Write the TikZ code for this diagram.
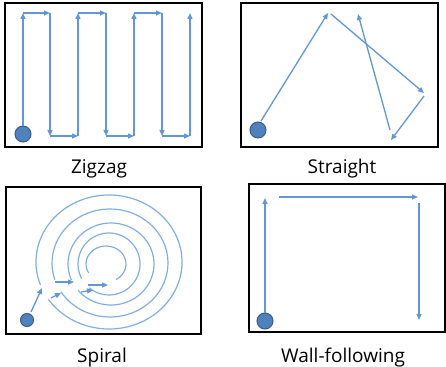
\documentclass[tikz,border=0pt]{standalone}
\usepackage{fontspec}
\setmainfont{Open Sans}
\usetikzlibrary{arrows.meta}
\definecolor{pathblue}{RGB}{98,150,212}
\definecolor{ringblue}{RGB}{130,175,225}
\definecolor{robotfill}{RGB}{79,129,189}
\definecolor{robotedge}{RGB}{56,93,138}
\begin{document}
\begin{tikzpicture}[x=1pt,y=-1pt,
  panel/.style={draw=black,line width=2pt},
  mv/.style={draw=pathblue,line width=1.3pt,-{Triangle[length=6pt,width=5pt]}},
  ring/.style={draw=ringblue,line width=1.2pt},
  robot/.style={circle,fill=robotfill,draw=robotedge,line width=1pt,minimum size=#1,inner sep=0pt},
  robot/.default=16pt,
  lbl/.style={font=\fontsize{19}{22}\selectfont,inner sep=0pt,anchor=base}]
\useasboundingbox (0,0) rectangle (446,366);

% ---------- Zigzag ----------
\draw[panel] (5,3) rectangle (202,147);
\node[robot] (r1) at (23,134) {};
\coordinate (z0) at (23,126);
\foreach \i/\x in {1/23,2/50,3/78,4/106,5/134,6/162,7/190}{
  \coordinate (t\i) at (\x,13);
  \coordinate (b\i) at (\x,136);
}
\draw[mv] (z0) -- (t1);
\draw[mv] (t1) -- (t2);
\draw[mv] (t2) -- (b2);
\draw[mv] (b2) -- (b3);
\draw[mv] (b3) -- (t3);
\draw[mv] (t3) -- (t4);
\draw[mv] (t4) -- (b4);
\draw[mv] (b4) -- (b5);
\draw[mv] (b5) -- (t5);
\draw[mv] (t5) -- (t6);
\draw[mv] (t6) -- (b6);
\draw[mv] (b6) -- (b7);
\draw[mv] (b7) -- (t7);
\node[lbl] (l1) at (99,173) {Zigzag};

% ---------- Straight ----------
\draw[panel] (241,3) rectangle (438,147);
\node[robot] (r2) at (258,130) {};
\coordinate (s0) at (261,121);
\coordinate (s1) at (328,13);
\coordinate (s2) at (331,14);
\coordinate (s3) at (424,93);
\coordinate (s4) at (424,96);
\coordinate (s5) at (391,140);
\coordinate (s6) at (390,130);
\coordinate (s7) at (358,14);
\draw[mv] (s0) -- (s1);
\draw[mv] (s2) -- (s3);
\draw[mv] (s4) -- (s5);
\draw[mv] (s6) -- (s7);
\node[lbl] (l2) at (342,173) {Straight};

% ---------- Spiral ----------
\draw[panel] (6,187) rectangle (201,334);
\node[robot=13pt] (r3) at (27,320) {};
% rings (pixel angles measured clockwise from +x, y down)
\draw[ring] (109,262) ++(160:73 and 67) arc[start angle=160,end angle=506,x radius=73,y radius=67];
\draw[ring] (110,263) ++(162:58 and 54) arc[start angle=162,end angle=508,x radius=58,y radius=54];
\draw[ring] (111,264) ++(157:43 and 41) arc[start angle=157,end angle=500,x radius=43,y radius=41];
\draw[ring] (109,264) ++(152:31 and 31) arc[start angle=152,end angle=490,x radius=31,y radius=31];
\draw[ring] (106,264) ++(150:20 and 18) arc[start angle=150,end angle=420,x radius=20,y radius=18];
\coordinate (p0) at (31,312);
\coordinate (p1) at (42,288);
\coordinate (p2) at (51,298);
\coordinate (p3) at (61,293);
\coordinate (p4) at (55,282);
\coordinate (p5) at (74,282);
\coordinate (p6) at (81,292);
\coordinate (p7) at (93,290);
\coordinate (p8) at (88,285);
\coordinate (p9) at (108,285);
\draw[mv] (p0) -- (p1);
\draw[mv] (p2) -- (p3);
\draw[mv] (p4) -- (p5);
\draw[mv] (p6) -- (p7);
\draw[mv] (p8) -- (p9);
\node[lbl] (l3) at (102,362) {Spiral};

% ---------- Wall-following ----------
\draw[panel] (249,184) rectangle (445,332);
\node[robot] (r4) at (265,321) {};
\coordinate (w0) at (265,313);
\coordinate (w1) at (265,198);
\coordinate (w2) at (279,197);
\coordinate (w3) at (418,197);
\coordinate (w4) at (419,203);
\coordinate (w5) at (419,320);
\draw[mv] (w0) -- (w1);
\draw[mv] (w2) -- (w3);
\draw[mv] (w4) -- (w5);
\node[lbl] (l4) at (343,362) {Wall-following};
\end{tikzpicture}
\end{document}
